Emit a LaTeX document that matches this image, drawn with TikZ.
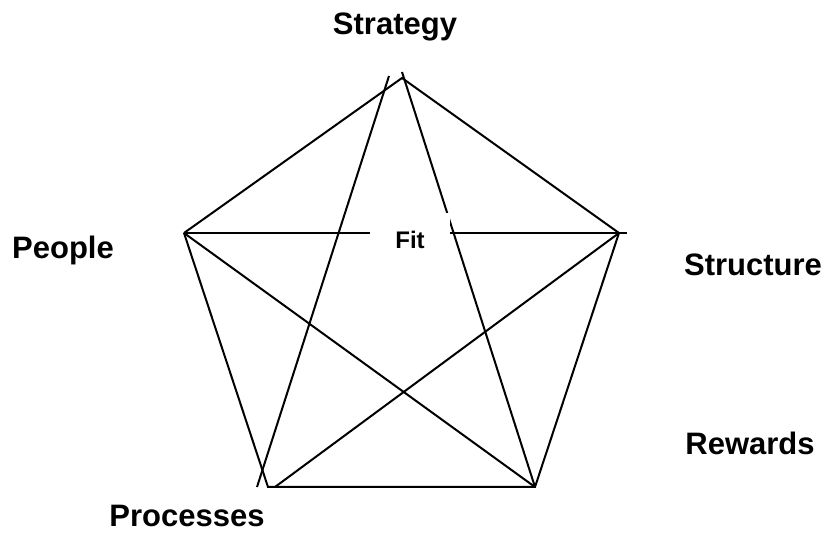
\documentclass[tikz,border=0pt]{standalone}
\usepackage{fontspec}
\setmainfont{Liberation Sans}
\begin{document}
\begin{tikzpicture}
    [x=0.5pt,y=-0.5pt,line width=1pt,
     lbl/.style={font=\fontsize{15.5}{18}\selectfont\bfseries},
     fit/.style={fill=white,minimum width=40pt,minimum height=27pt,inner sep=0pt,font=\fontsize{12}{14}\selectfont\bfseries} ]

    \useasboundingbox (0,0) rectangle (826,534);

    \coordinate (top) at (402,78);
    \coordinate (topx) at (402,72);
    \coordinate (topl) at (389,76);
    \coordinate (ppl) at (184,233);
    \coordinate (str) at (619,233);
    \coordinate (strx) at (627,233);
    \coordinate (prc) at (268,487);
    \coordinate (prcx) at (257,487);
    \coordinate (prcr) at (275,487);
    \coordinate (rew) at (535,487);

    \draw (ppl) -- (top) -- (str);
    \draw (topx) -- (rew);
    \draw (topl) -- (prcx);
    \draw (ppl) -- (strx);
    \draw (ppl) -- (prc) -- (rew) -- (str);
    \draw (ppl) -- (rew);
    \draw (str) -- (prcr);

    \node (fit) at (410,240) [fit] {Fit};

    \node (strategy) at (395,27) [lbl] {Strategy};
    \node (people) at (63,250) [lbl] {People};
    \node (structure) at (753,265) [lbl] {Structure};
    \node (rewards) at (750,443) [lbl] {Rewards};
    \node (processes) at (187,516) [lbl] {Processes};

\end{tikzpicture}
\end{document}
